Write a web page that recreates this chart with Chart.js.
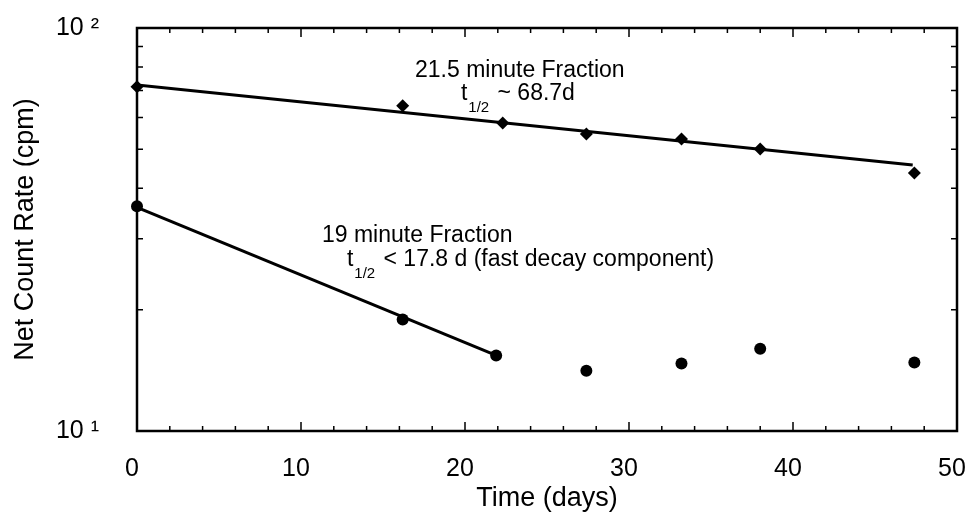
<!DOCTYPE html>
<html>
<head>
<meta charset="utf-8">
<script src="https://cdn.jsdelivr.net/npm/chart.js@4"></script>
<style>
    body { margin: 0; background: #fff; }
    #wrap { width: 969px; height: 522px; }
</style>
</head>
<body>
<div id="wrap"><canvas id="decayChart"></canvas></div>
<script>
// 21.5 minute fraction (diamonds)
const days21 = [0, 16.2, 22.3, 27.4, 33.2, 38.0, 47.4];
const rate21 = [71.5, 64.1, 58.1, 54.6, 53.0, 50.1, 43.7];
// 19 minute fraction (circles)
const days19 = [0, 16.2, 21.9, 27.4, 33.2, 38.0, 47.4];
const rate19 = [36.1, 18.9, 15.4, 14.1, 14.7, 16.0, 14.8];
// fitted lines, end points
const fit21Days = [0, 47.3];
const fit21Rate = [72.2, 45.7];
const fit19Days = [0, 21.9];
const fit19Rate = [35.9, 15.4];

// axes
const xTicks = [0, 10, 20, 30, 40, 50];
const xMinorTicks = [2, 4, 6, 8, 12, 14, 16, 18, 22, 24, 26, 28, 32, 34, 36, 38, 42, 44, 46, 48];
const yTicks = [10, 100];
const yTickLabels = ['10 \u00b9', '10 \u00b2'];
const yMinorTicks = [20, 30, 40, 50, 60, 70, 80, 90];

// annotation text, anchored in data units (left edge, vertical centre)
const notes = [
    { x: 16.95, y: 78.5, main: '21.5 minute Fraction' },
    { x: 19.75, y: 68.6, main: 't', sub: '1/2', rest: ' ~ 68.7d' },
    { x: 11.28, y: 30.6, main: '19 minute Fraction' },
    { x: 12.8, y: 26.6, main: 't', sub: '1/2', rest: ' < 17.8 d (fast decay component)' }
];

const FONT = '"Liberation Sans", Arial, sans-serif';

function toPoints(xs, ys) {
    return xs.map((x, i) => ({ x: x, y: ys[i] }));
}

const framePlugin = {
    id: 'frame',
    afterDatasetsDraw(chart) {
        const ctx = chart.ctx;
        const a = chart.chartArea;
        const xs = chart.scales.x;
        const ys = chart.scales.y;
        ctx.save();
        ctx.strokeStyle = '#000';
        ctx.lineWidth = 2.5;
        ctx.strokeRect(a.left, a.top, a.right - a.left, a.bottom - a.top);

        ctx.lineWidth = 1.5;
        ctx.beginPath();
        xTicks.forEach(v => {
            const px = xs.getPixelForValue(v);
            ctx.moveTo(px, a.bottom); ctx.lineTo(px, a.bottom - 9);
            ctx.moveTo(px, a.top); ctx.lineTo(px, a.top + 9);
        });
        xMinorTicks.forEach(v => {
            const px = xs.getPixelForValue(v);
            ctx.moveTo(px, a.bottom); ctx.lineTo(px, a.bottom - 5);
            ctx.moveTo(px, a.top); ctx.lineTo(px, a.top + 5);
        });
        yMinorTicks.forEach(v => {
            const py = ys.getPixelForValue(v);
            ctx.moveTo(a.left, py); ctx.lineTo(a.left + 6, py);
            ctx.moveTo(a.right, py); ctx.lineTo(a.right - 6, py);
        });
        ctx.stroke();

        // annotations
        ctx.fillStyle = '#000';
        ctx.textBaseline = 'middle';
        ctx.textAlign = 'left';
        notes.forEach(n => {
            let px = xs.getPixelForValue(n.x);
            const py = ys.getPixelForValue(n.y);
            ctx.font = '23px ' + FONT;
            ctx.fillText(n.main, px, py);
            if (n.sub) {
                px += ctx.measureText(n.main).width + 1;
                ctx.font = '15px ' + FONT;
                ctx.fillText(n.sub, px, py + 14);
                px += ctx.measureText(n.sub).width + 2;
                ctx.font = '23px ' + FONT;
                ctx.fillText(n.rest, px, py);
            }
        });
        ctx.restore();
    }
};

const ctx = document.getElementById('decayChart').getContext('2d');
const myChart = new Chart(ctx, {
    type: 'scatter',
    data: {
        datasets: [
            {
                label: '21.5 minute Fraction',
                data: toPoints(days21, rate21),
                pointStyle: 'rectRot',
                pointRadius: 6.5,
                backgroundColor: '#000',
                borderColor: '#000',
                borderWidth: 0,
                clip: false
            },
            {
                label: '19 minute Fraction',
                data: toPoints(days19, rate19),
                pointStyle: 'circle',
                pointRadius: 6,
                backgroundColor: '#000',
                borderColor: '#000',
                borderWidth: 0,
                clip: false
            },
            {
                label: 'fit 21.5',
                data: toPoints(fit21Days, fit21Rate),
                showLine: true,
                pointRadius: 0,
                borderColor: '#000',
                borderWidth: 3
            },
            {
                label: 'fit 19',
                data: toPoints(fit19Days, fit19Rate),
                showLine: true,
                pointRadius: 0,
                borderColor: '#000',
                borderWidth: 3
            }
        ]
    },
    options: {
        responsive: true,
        maintainAspectRatio: false,
        animation: false,
        layout: {
            padding: { top: 28, right: 12, left: 0, bottom: 0 }
        },
        plugins: {
            legend: { display: false },
            tooltip: { enabled: false }
        },
        scales: {
            x: {
                type: 'linear',
                min: 0,
                max: 50,
                afterBuildTicks: scale => { scale.ticks = xTicks.map(v => ({ value: v })); },
                afterFit: scale => {
                    scale.height = 91;
                    scale.paddingLeft = 0;
                    scale.paddingRight = 0;
                },
                grid: { display: false },
                border: { display: false },
                ticks: {
                    color: '#000',
                    padding: 15,
                    labelOffset: -5,
                    maxRotation: 0,
                    font: { family: FONT, size: 25 }
                },
                title: {
                    display: true,
                    text: 'Time (days)',
                    color: '#000',
                    padding: { top: 0, bottom: 7 },
                    font: { family: FONT, size: 27 }
                }
            },
            y: {
                type: 'logarithmic',
                min: 10,
                max: 100,
                afterBuildTicks: scale => { scale.ticks = yTicks.map(v => ({ value: v })); },
                afterFit: scale => {
                    scale.width = 137;
                    scale.paddingTop = 0;
                    scale.paddingBottom = 0;
                },
                grid: { display: false },
                border: { display: false },
                ticks: {
                    color: '#000',
                    padding: 30,
                    font: { family: FONT, size: 25 },
                    callback: (value) => yTickLabels[yTicks.indexOf(value)]
                },
                title: {
                    display: true,
                    text: 'Net Count Rate (cpm)',
                    color: '#000',
                    padding: { top: 9, bottom: 0 },
                    font: { family: FONT, size: 27 }
                }
            }
        }
    },
    plugins: [framePlugin]
});
</script>
</body>
</html>
